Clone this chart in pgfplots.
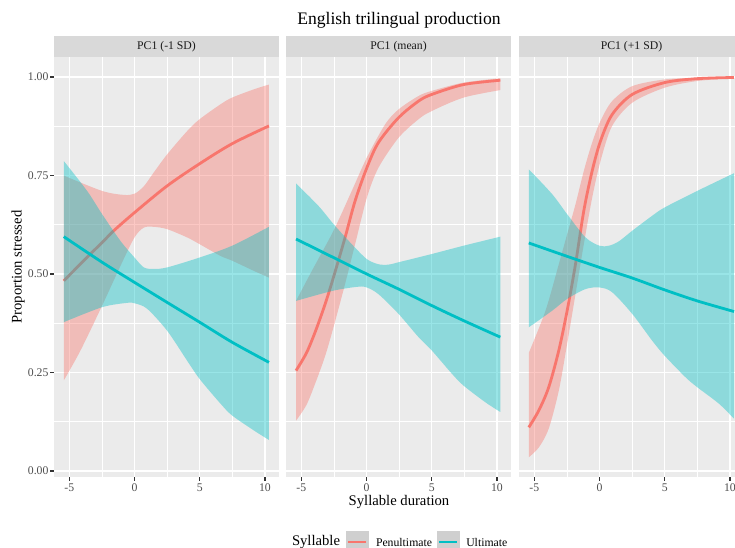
\documentclass[border=0pt]{standalone}
\usepackage{fontspec}
\setmainfont{Liberation Serif}
\usepackage{pgfplots}
\pgfplotsset{compat=1.18}
\usepgfplotslibrary{fillbetween}
\definecolor{pen}{HTML}{F8766D}
\definecolor{ult}{HTML}{00BFC4}
\definecolor{panelbg}{HTML}{EBEBEB}
\definecolor{stripbg}{HTML}{D9D9D9}
\definecolor{tickc}{HTML}{4D4D4D}
\definecolor{tickm}{HTML}{333333}
\definecolor{stript}{HTML}{1A1A1A}
\definecolor{keybg}{HTML}{CFCFCF}

\pgfplotsset{
 facet/.style={
  at={(#1,-42.75pt)}, anchor=north west,
  set layers,
  scale only axis, width=168.75pt, height=315pt,
  xmin=-6.17, xmax=11.08, ymin=-0.015, ymax=1.051,
  axis background/.style={fill=panelbg},
  axis line style={draw=none},
  xtick={-5,0,5,10}, xticklabels={-5,0,5,10},
  ytick={0,0.25,0.5,0.75,1}, yticklabels={0.00,0.25,0.50,0.75,1.00},
  minor xtick={-2.5,2.5,7.5}, minor ytick={0.125,0.375,0.625,0.875},
  grid=both,
  major grid style={white, line width=1.07pt},
  minor grid style={white, line width=0.53pt},
  tick align=outside,
  major tick length=2.75pt, minor tick length=0pt,
  tick style={tickm, line width=1.07pt},
  xtick pos=left, ytick pos=left,
  tick label style={font=\fontsize{8.8}{10}\selectfont, text=tickc, inner sep=0pt},
  xticklabel style={anchor=north, yshift=-1.95pt},
  yticklabel style={anchor=east, xshift=-1.2pt},
 },
 noy/.style={yticklabels={}, ytick style={draw=none}},
 ln/.style={smooth, line width=2.1pt, #1},
 lnp/.style={smooth, line width=2.1pt, pen, on layer=pre main},
 bd/.style={smooth, draw=none, forget plot},
}

\begin{document}
\begin{tikzpicture}

% ---------------- Panel 1: PC1 (-1 SD)
\begin{axis}[facet=40.5pt]
\addplot[bd, name path=pu] coordinates {(-5.42,0.75) (-2.48,0.711) (-0.82,0.701) (0,0.704) (0.72,0.723) (1.48,0.758) (2.51,0.804) (4.04,0.863) (4.99,0.893) (6.6,0.931) (7.49,0.948) (9.16,0.969) (10.31,0.981)};
\addplot[bd, name path=pl] coordinates {(-5.42,0.23) (-4.14,0.306) (-2.48,0.42) (-1.07,0.521) (0,0.593) (0.72,0.618) (1.48,0.62) (2.51,0.614) (4.04,0.593) (4.99,0.576) (6.6,0.546) (7.49,0.534) (9.16,0.508) (10.31,0.491)};
\addplot[pen, fill opacity=0.4, draw=none] fill between[of=pu and pl];
\addplot[lnp] coordinates {(-5.42,0.483) (-3.38,0.551) (-2.48,0.58) (-1.59,0.61) (0,0.656) (2.51,0.724) (4.99,0.78) (7.49,0.831) (10.31,0.876)};
\addplot[bd, name path=uu] coordinates {(-5.42,0.787) (-3.63,0.711) (-2.48,0.652) (-1.07,0.584) (0,0.542) (0.72,0.517) (1.48,0.513) (2.51,0.517) (4.99,0.542) (7.49,0.572) (10.31,0.62)};
\addplot[bd, name path=ul] coordinates {(-5.42,0.378) (-2.48,0.416) (-0.56,0.427) (0,0.426) (0.97,0.412) (2.51,0.356) (4.04,0.28) (4.99,0.234) (6.6,0.171) (7.49,0.141) (9.16,0.103) (10.31,0.079)};
\addplot[ult, fill opacity=0.4, draw=none] fill between[of=uu and ul];
\addplot[ln=ult] coordinates {(-5.42,0.595) (-2.48,0.53) (0,0.479) (2.51,0.428) (4.99,0.378) (7.49,0.327) (10.31,0.276)};
\end{axis}

% ---------------- Panel 2: PC1 (mean)
\begin{axis}[facet=214.5pt, noy]
\addplot[bd, name path=pu] coordinates {(-5.4,0.432) (-4.19,0.508) (-2.53,0.61) (-1.13,0.711) (0.03,0.796) (1.43,0.88) (2.46,0.918) (3.99,0.952) (5.01,0.965) (7.44,0.986) (10.26,0.997)};
\addplot[bd, name path=pl] coordinates {(-5.4,0.128) (-4.6,0.168) (-3.9,0.225) (-3.17,0.292) (-2.53,0.365) (-1.64,0.475) (-0.87,0.576) (0.03,0.694) (0.92,0.77) (2.46,0.846) (3.99,0.893) (5.01,0.914) (7.44,0.948) (10.26,0.967)};
\addplot[pen, fill opacity=0.4, draw=none] fill between[of=pu and pl];
\addplot[lnp] coordinates {(-5.4,0.255) (-4.6,0.3) (-3.9,0.356) (-3.17,0.424) (-2.53,0.492) (-1.64,0.593) (-0.87,0.686) (0.03,0.77) (0.92,0.834) (2.46,0.897) (3.99,0.939) (5.01,0.956) (7.44,0.981) (10.26,0.992)};
\addplot[bd, name path=uu] coordinates {(-5.4,0.73) (-3.68,0.673) (-2.53,0.627) (-1.13,0.576) (0.03,0.538) (0.92,0.525) (1.69,0.524) (2.46,0.53) (5.01,0.551) (7.44,0.572) (10.26,0.595)};
\addplot[bd, name path=ul] coordinates {(-5.4,0.432) (-2.53,0.458) (-0.61,0.468) (0.03,0.466) (0.92,0.449) (2.46,0.399) (3.99,0.34) (5.01,0.306) (6.55,0.247) (7.44,0.217) (9.1,0.175) (10.26,0.15)};
\addplot[ult, fill opacity=0.4, draw=none] fill between[of=uu and ul];
\addplot[ln=ult] coordinates {(-5.4,0.589) (-2.53,0.542) (0.03,0.5) (2.46,0.462) (5.01,0.42) (7.44,0.382) (10.26,0.34)};
\end{axis}

% ---------------- Panel 3: PC1 (+1 SD)
\begin{axis}[facet=389.25pt, noy]
\addplot[bd, name path=pu] coordinates {(-5.42,0.3) (-4.14,0.407) (-3.12,0.525) (-2.48,0.601) (-1.84,0.677) (-1.2,0.762) (-0.56,0.834) (0.08,0.889) (0.97,0.939) (2.51,0.977) (4.99,0.994) (7.49,0.998) (10.31,1.0)};
\addplot[bd, name path=pl] coordinates {(-5.42,0.035) (-4.65,0.06) (-3.89,0.108) (-3.12,0.204) (-2.48,0.323) (-1.84,0.449) (-1.2,0.576) (-0.56,0.694) (0.08,0.787) (0.97,0.876) (2.51,0.935) (4.99,0.973) (7.49,0.99) (10.31,0.997)};
\addplot[pen, fill opacity=0.4, draw=none] fill between[of=pu and pl];
\addplot[lnp] coordinates {(-5.42,0.111) (-4.65,0.154) (-3.89,0.213) (-3.12,0.306) (-2.48,0.407) (-1.84,0.525) (-1.2,0.661) (-0.56,0.762) (0.08,0.838) (0.97,0.905) (2.51,0.956) (4.99,0.986) (7.49,0.996) (10.31,0.999)};
\addplot[bd, name path=uu] coordinates {(-5.42,0.766) (-3.63,0.703) (-2.48,0.652) (-1.07,0.593) (0,0.572) (0.72,0.572) (1.48,0.583) (2.51,0.61) (4.04,0.648) (4.99,0.669) (7.49,0.711) (10.31,0.756)};
\addplot[bd, name path=ul] coordinates {(-5.42,0.365) (-3.63,0.407) (-2.48,0.437) (-1.07,0.462) (0,0.466) (0.97,0.454) (2.51,0.399) (4.04,0.331) (4.99,0.293) (6.6,0.238) (7.49,0.213) (9.16,0.171) (10.31,0.133)};
\addplot[ult, fill opacity=0.4, draw=none] fill between[of=uu and ul];
\addplot[ln=ult] coordinates {(-5.42,0.579) (-2.48,0.545) (0,0.517) (2.51,0.49) (4.99,0.46) (7.49,0.432) (10.31,0.405)};
\end{axis}

% strips
\fill[stripbg] (40.5pt,-27pt) rectangle (209.25pt,-42.75pt);
\fill[stripbg] (214.5pt,-27pt) rectangle (383.25pt,-42.75pt);
\fill[stripbg] (389.25pt,-27pt) rectangle (558pt,-42.75pt);
\node[font=\fontsize{8.8}{10}\selectfont, text=stript] at (124.9pt,-34.9pt) {PC1 (-1 SD)};
\node[font=\fontsize{8.8}{10}\selectfont, text=stript] at (298.9pt,-34.9pt) {PC1 (mean)};
\node[font=\fontsize{8.8}{10}\selectfont, text=stript] at (473.6pt,-34.9pt) {PC1 (+1 SD)};

% titles
\node[anchor=base, font=\fontsize{13.2}{15}\selectfont] at (299.25pt,-18.75pt) {English trilingual production};
\node[anchor=base, font=\fontsize{11}{13}\selectfont] at (299.25pt,-378.75pt) {Syllable duration};
\node[anchor=base, rotate=90, font=\fontsize{11}{13}\selectfont] at (16.3pt,-200.25pt) {Proportion stressed};

% legend
\node[anchor=west, inner sep=0pt, font=\fontsize{11}{13}\selectfont] at (218.8pt,-406.65pt) {Syllable};
\fill[keybg] (259.5pt,-398.25pt) rectangle (276.75pt,-415.5pt);
\draw[pen, line width=1.3pt] (261.2pt,-406.6pt) -- (274.5pt,-406.6pt);
\node[anchor=west, inner sep=0pt, font=\fontsize{8.8}{10}\selectfont] at (281.8pt,-406.65pt) {Penultimate};
\fill[keybg] (327.75pt,-398.25pt) rectangle (345pt,-415.5pt);
\draw[ult, line width=1.3pt] (329.5pt,-406.6pt) -- (342.75pt,-406.6pt);
\node[anchor=west, inner sep=0pt, font=\fontsize{8.8}{10}\selectfont] at (349.5pt,-406.65pt) {Ultimate};

\pgfresetboundingbox
\useasboundingbox (0,0) rectangle (551.25pt,-411pt);
\end{tikzpicture}
\end{document}
